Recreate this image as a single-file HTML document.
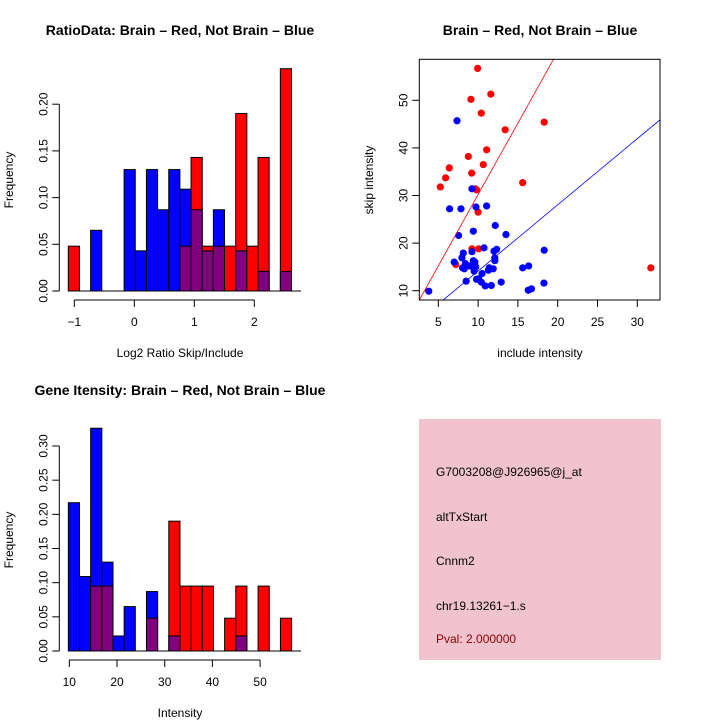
<!DOCTYPE html>
<html><head><meta charset="utf-8"><style>
body{margin:0;background:#fff}
svg{display:block;font-family:"Liberation Sans",sans-serif}
</style></head><body>
<svg id="c" width="720" height="720" viewBox="0 0 720 720"></svg>
<script>
// ---- data: ratio histogram ----
const ratioBinStart = -1.1;
const ratioBinWidth = 0.186;
const ratioRed  = [0.048,0,0,0,0,0,0,0,0,0,0.048,0.143,0.048,0.048,0.048,0.190,0.048,0.143,0,0.238];
const ratioBlue = [0,0,0.065,0,0,0.130,0.043,0.130,0.087,0.130,0.109,0.087,0.043,0.087,0,0.043,0,0.021,0,0.021];
const ratioXTicks = [-1,0,1,2];
const ratioYTicks = [0,0.05,0.10,0.15,0.20];
// ---- data: intensity histogram ----
const intBinStart = 9.8;
const intBinWidth = 2.34;
const intRed  = [0,0,0.095,0.095,0,0,0,0.048,0,0.190,0.095,0.095,0.095,0,0.048,0.095,0,0.095,0,0.048];
const intBlue = [0.217,0.109,0.326,0.130,0.022,0.065,0,0.087,0,0.022,0,0,0,0,0,0.022,0,0,0,0];
const intXTicks = [10,20,30,40,50];
const intYTicks = [0,0.05,0.10,0.15,0.20,0.25,0.30];
// ---- data: scatter ----
const redX = [9.94,9.1,11.6,10.4,18.3,13.4,11.07,8.77,6.38,10.65,9.2,5.92,5.25,15.6,9.65,10.0,9.23,10.07,7.2,31.7,9.8];
const redY = [56.7,50.2,51.3,47.3,45.4,43.8,39.6,38.2,35.8,36.5,34.7,33.7,31.8,32.7,31.4,26.5,18.8,18.8,15.5,14.8,31.2];
const blueX = [3.8,7.35,9.23,6.42,7.85,9.73,11.07,12.16,13.5,9.4,7.55,10.74,9.23,12.33,12.0,18.3,8.14,7.97,7.0,12.1,12.1,9.4,8.4,8.9,9.7,8.05,9.5,8.27,11.4,11.9,11.3,9.5,15.6,16.35,10.5,9.8,10.07,8.5,10.4,10.9,11.66,12.9,18.27,16.3,16.7,9.6];
const blueY = [9.9,45.7,31.4,27.2,27.2,27.6,27.8,23.7,21.8,22.5,21.6,19.0,18.2,18.7,18.3,18.5,17.9,16.9,16.0,16.9,16.3,16.3,15.7,15.2,15.0,14.8,14.7,14.6,14.8,14.6,14.3,14.1,14.8,15.2,13.6,12.4,12.5,12.0,11.8,11.0,11.1,11.8,11.6,10.1,10.4,16.0];
const redSlope = 3.0, redIntercept = 0.2;
const blueSlope = 1.39, blueIntercept = 0.24;
const scXTicks = [5,10,15,20,25,30];
const scYTicks = [10,20,30,40,50];

const svg = document.getElementById('c');
const NS = 'http://www.w3.org/2000/svg';
function mk(tag, attrs, parent){const e=document.createElementNS(NS,tag);for(const k in attrs)e.setAttribute(k,attrs[k]);(parent||svg).appendChild(e);return e;}
function txt(s, attrs){const e=mk('text',attrs);e.textContent=s;return e;}

function hist(cfg){
  const sx=v=>cfg.x0+(v-cfg.d0)*cfg.kx, sy=v=>cfg.base-v*cfg.ky;
  const g=mk('g',{});
  
  
  for(let i=0;i<cfg.red.length;i++){
    const a=sx(cfg.bs+i*cfg.bw), b=sx(cfg.bs+(i+1)*cfg.bw);
    const r=cfg.red[i], bl=cfg.blue[i], m=Math.min(r,bl), M=Math.max(r,bl);
    if(M>0){
      const e=mk('rect',{x:a,y:sy(M),width:b-a,height:sy(0)-sy(M),fill:r>=bl?'#ff0000':'#0000ff',stroke:'#000','stroke-width':1},g);
      
      
    }
    if(m>0){
      const e=mk('rect',{x:a,y:sy(m),width:b-a,height:sy(0)-sy(m),fill:'#800080',stroke:'#000','stroke-width':1},g);
      
      
    }
  }
  mk('line',{x1:sx(cfg.bs),x2:cfg.xAxisEnd,y1:sy(0),y2:sy(0),stroke:'#000'},g);
  // y axis
  const yt=cfg.yt;
  mk('line',{x1:cfg.yAxisX,x2:cfg.yAxisX,y1:sy(yt[0]),y2:sy(yt[yt.length-1]),stroke:'#000'},g);
  yt.forEach(v=>{
    mk('line',{x1:cfg.yAxisX-7,x2:cfg.yAxisX,y1:sy(v),y2:sy(v),stroke:'#000'},g);
    const t=txt(v.toFixed(2),{x:0,y:0,'font-size':12,'text-anchor':'middle',transform:`translate(${cfg.yAxisX-12},${sy(v)}) rotate(-90)`});
    
    
  });
  const xt=cfg.xt;
  mk('line',{x1:sx(xt[0]),x2:sx(xt[xt.length-1]),y1:cfg.xAxisY,y2:cfg.xAxisY,stroke:'#000'},g);
  xt.forEach(v=>{
    mk('line',{x1:sx(v),x2:sx(v),y1:cfg.xAxisY,y2:cfg.xAxisY+7,stroke:'#000'},g);
    const t=txt(v.toString().replace('-','\u2212'),{x:sx(v),y:cfg.xAxisY+26,'font-size':12,'text-anchor':'middle'});
    
    
  });
}
hist({name:'ratio-histogram',red:ratioRed,blue:ratioBlue,bs:ratioBinStart,bw:ratioBinWidth,x0:134.3,d0:0,kx:60,base:291,ky:934,
  yAxisX:59.3,xAxisY:300,xAxisEnd:301,xt:ratioXTicks,yt:ratioYTicks});
hist({name:'intensity-histogram',red:intRed,blue:intBlue,bs:intBinStart,bw:intBinWidth,x0:69.3,d0:10,kx:4.77,base:651,ky:683.3,
  yAxisX:59.3,xAxisY:660,xAxisEnd:301,xt:intXTicks,yt:intYTicks});

// scatter
(function(){
  const sx=v=>438.3+(v-5)*7.96, sy=v=>290.7-(v-10)*4.76;
  const g=mk('g',{});
  
  
  const L=419.3,R=660,T=59.3,B=300;
  const cp=mk('clipPath',{id:'cl'},g); mk('rect',{x:L,y:T,width:R-L,height:B-T},cp);
  redX.forEach((x,i)=>{const c=mk('circle',{cx:sx(x),cy:sy(redY[i]),r:3.6,fill:'#ff0000'},g);
    
    });
  blueX.forEach((x,i)=>{const c=mk('circle',{cx:sx(x),cy:sy(blueY[i]),r:3.6,fill:'#0000ff'},g);
    
    });
  const xa=0, xb=40;
  const l1=mk('line',{x1:sx(xa),y1:sy(redIntercept+redSlope*xa),x2:sx(xb),y2:sy(redIntercept+redSlope*xb),stroke:'#ff0000','stroke-width':0.8,'clip-path':'url(#cl)'},g);
  
  
  const l2=mk('line',{x1:sx(xa),y1:sy(blueIntercept+blueSlope*xa),x2:sx(xb),y2:sy(blueIntercept+blueSlope*xb),stroke:'#0000ff','stroke-width':0.8,'clip-path':'url(#cl)'},g);
  
  
  mk('rect',{x:L,y:T,width:R-L,height:B-T,fill:'none',stroke:'#000'},g);
  scXTicks.forEach(v=>{mk('line',{x1:sx(v),x2:sx(v),y1:B,y2:B+7,stroke:'#000'},g);
    const t=txt(v,{x:sx(v),y:B+26,'font-size':12,'text-anchor':'middle'});
    
    });
  scYTicks.forEach(v=>{mk('line',{x1:L-7,x2:L,y1:sy(v),y2:sy(v),stroke:'#000'},g);
    const t=txt(v,{x:0,y:0,'font-size':12,'text-anchor':'middle',transform:`translate(${L-12},${sy(v)}) rotate(-90)`});
    
    });
})();
</script>
<!-- static labels -->
<script>
(function(){
  const s=document.getElementById('c');
  s.insertAdjacentHTML('beforeend',`
  <text x="180" y="35" font-size="14" font-weight="bold" text-anchor="middle">RatioData: Brain – Red, Not Brain – Blue</text>
  <text x="180" y="357" font-size="12" text-anchor="middle">Log2 Ratio Skip/Include</text>
  <text transform="translate(13,180) rotate(-90)" font-size="12" text-anchor="middle">Frequency</text>
  <text x="540" y="35" font-size="14" font-weight="bold" text-anchor="middle">Brain – Red, Not Brain – Blue</text>
  <text x="540" y="357" font-size="12" text-anchor="middle">include intensity</text>
  <text transform="translate(373,180) rotate(-90)" font-size="12" text-anchor="middle">skip intensity</text>
  <text x="180" y="395" font-size="14" font-weight="bold" text-anchor="middle">Gene Itensity: Brain – Red, Not Brain – Blue</text>
  <text x="180" y="717" font-size="12" text-anchor="middle">Intensity</text>
  <text transform="translate(13,540) rotate(-90)" font-size="12" text-anchor="middle">Frequency</text>
  <g>
    <rect x="419" y="419" width="242" height="241" fill="#f1c3ce"/>
    <text x="436" y="476" font-size="12">G7003208@J926965@j_at</text>
    <text x="436" y="521" font-size="12">altTxStart</text>
    <text x="436" y="565" font-size="12">Cnnm2</text>
    <text x="436" y="610" font-size="12">chr19.13261−1.s</text>
    <text x="436" y="643" font-size="12" fill="#8b0000">Pval: 2.000000</text>
  </g>`);
})();
</script>
</body></html>
